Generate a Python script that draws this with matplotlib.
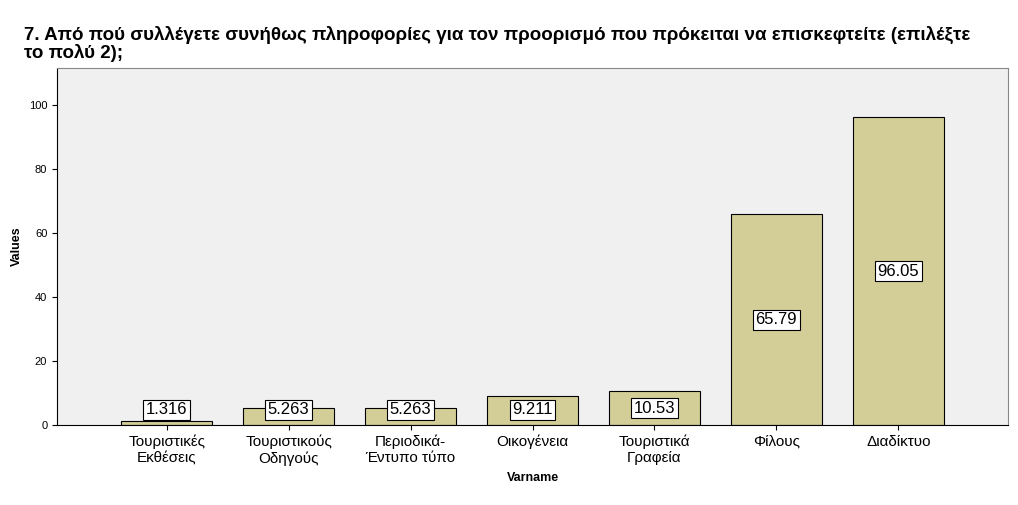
import matplotlib
matplotlib.use("Agg")
import matplotlib.pyplot as plt

plt.rcParams["font.family"] = "Liberation Sans"

categories = ["Τουριστικές\nΕκθέσεις", "Τουριστικούς\nΟδηγούς", "Περιοδικά-\nΈντυπο τύπο",
              "Οικογένεια", "Τουριστικά\nΓραφεία", "Φίλους", "Διαδίκτυο"]
values = [1.316, 5.263, 5.263, 9.211, 10.53, 65.79, 96.05]
labels = ["1.316", "5.263", "5.263", "9.211", "10.53", "65.79", "96.05"]
yticks = [0, 20, 40, 60, 80, 100]

fig = plt.figure(figsize=(10.18, 5.05), dpi=100)
ax = fig.add_axes([57/1018, 1-425/505, 951/1018, 357/505])
ax.set_facecolor("#f0f0f0")
for s in ["top", "right"]:
    ax.spines[s].set_color("#888888")
x = list(range(len(values)))
ax.bar(x, values, width=0.75, color="#d3ce97", edgecolor="black", linewidth=0.8)
for xi, v, lab in zip(x, values, labels):
    ax.text(xi, max(v/2, 4.7), lab, ha="center", va="center", fontsize=12,
            bbox=dict(boxstyle="square,pad=0.15", fc="white", ec="black", lw=0.8))
ax.set_xlim(-0.9, 6.9)
ax.set_ylim(0, 111.5)
ax.set_yticks(yticks)
ax.set_yticklabels([str(t) for t in yticks], fontsize=8)
ax.set_xticks(x)
ax.set_xticklabels(categories, fontsize=11)
ax.set_xlabel("Varname", fontsize=9, fontweight="bold")
ax.set_ylabel("Values", fontsize=9, fontweight="bold")
fig.text(24/1018, 1-44/505,
         "7. Από πού συλλέγετε συνήθως πληροφορίες για τον προορισμό που πρόκειται να επισκεφτείτε (επιλέξτε\nτο πολύ 2);",
         fontsize=13.5, fontweight="bold", ha="left", va="center", linespacing=0.95)
fig.savefig("out.png", dpi=100)
